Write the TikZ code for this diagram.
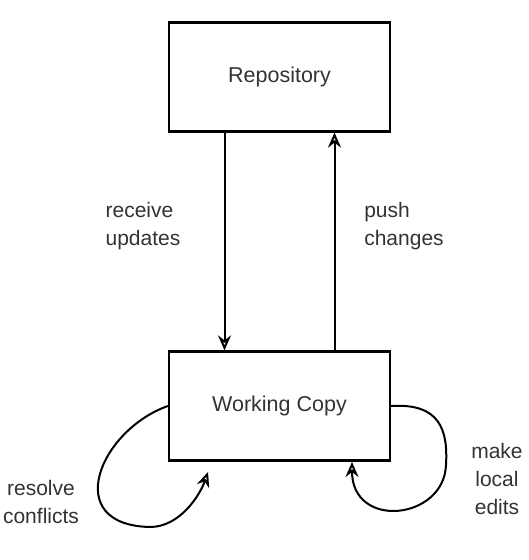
\documentclass[tikz,border=0pt]{standalone}
\usepackage{fontspec}
\setmainfont{Liberation Sans}
\usetikzlibrary{arrows.meta}

\begin{document}
\begin{tikzpicture}[x=1pt,y=1pt,
        box/.style={draw, line width=2.2pt, minimum width=221pt, minimum height=109pt,
                    font=\fontsize{21.5}{25}\selectfont, text=black!80},
        lbl/.style={font=\fontsize{21}{28}\selectfont, text=black!80},
        flow/.style={line width=2pt, -{Stealth[open,length=15pt,width=13pt,inset=5pt]}}]
    \useasboundingbox (0,0) rectangle (528,560);

    \node[box] (repo) at (279.5,483) {Repository};
    \node[box] (wc) at (279.5,154) {Working Copy};

    \node[lbl, align=left] (recv) at (143,334) {receive\\updates};
    \node[lbl, align=left] (push) at (404,334) {push\\changes};
    \node[lbl, align=center] (resolve) at (41,58) {resolve\\conflicts};
    \node[lbl, align=center] (edits) at (497,81) {make\\local\\edits};

    \coordinate (lend) at (208,88);
    \coordinate (rend) at (352,98);

    \draw[flow] ([xshift=-55pt]repo.south) -- ([xshift=-55pt]wc.north);
    \draw[flow] ([xshift=55pt]wc.north) -- ([xshift=55pt]repo.south);
    \draw[flow] (wc.west) .. controls (100,130) and (60,35) .. (150,33)
        .. controls (180,33) and (200,65) .. (lend);
    \draw[flow] (wc.east) .. controls (440,157) and (448,130) .. (446,95)
        .. controls (444,40) and (352,30) .. (rend);
\end{tikzpicture}
\end{document}
